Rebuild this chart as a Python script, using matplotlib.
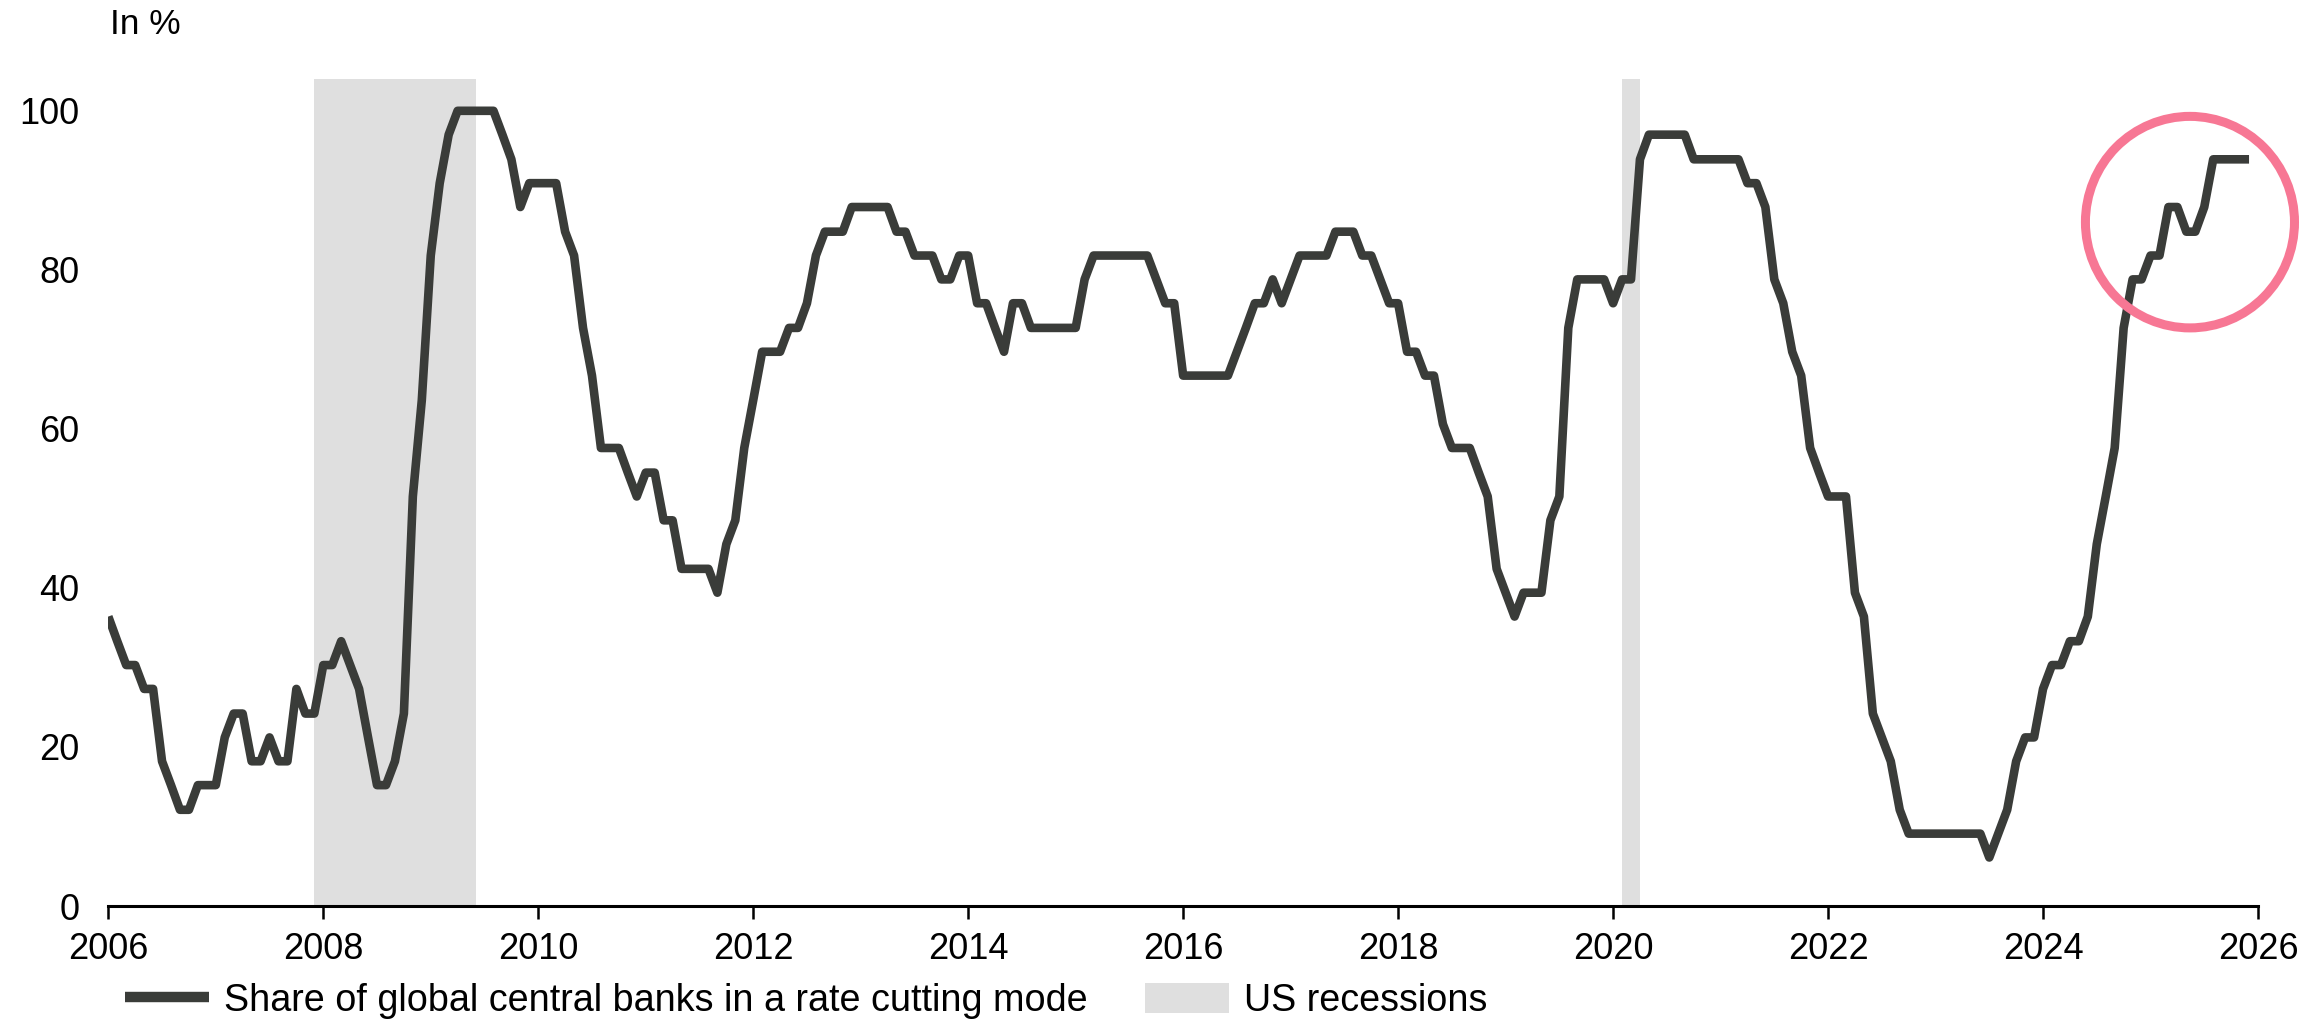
import matplotlib
matplotlib.use('Agg')
import matplotlib.pyplot as plt
import numpy as np
from matplotlib.lines import Line2D
from matplotlib.patches import Patch, Ellipse

plt.rcParams['font.family'] = ['Liberation Sans', 'DejaVu Sans']

# ---------------- data (monthly, Jan 2006 onwards) ----------------
start_year = 2006
share = [
    # 2006
    36.4, 33.3, 30.3, 30.3, 27.3, 27.3, 18.2, 15.2, 12.1, 12.1, 15.2, 15.2,
    # 2007
    15.2, 21.2, 24.2, 24.2, 18.2, 18.2, 21.2, 18.2, 18.2, 27.3, 24.2, 24.2,
    # 2008
    30.3, 30.3, 33.3, 30.3, 27.3, 21.2, 15.2, 15.2, 18.2, 24.2, 51.5, 63.6,
    # 2009
    81.8, 90.9, 97.0, 100.0, 100.0, 100.0, 100.0, 100.0, 97.0, 93.9, 87.9, 90.9,
    # 2010
    90.9, 90.9, 90.9, 84.8, 81.8, 72.7, 66.7, 57.6, 57.6, 57.6, 54.5, 51.5,
    # 2011
    54.5, 54.5, 48.5, 48.5, 42.4, 42.4, 42.4, 42.4, 39.4, 45.5, 48.5, 57.6,
    # 2012
    63.6, 69.7, 69.7, 69.7, 72.7, 72.7, 75.8, 81.8, 84.8, 84.8, 84.8, 87.9,
    # 2013
    87.9, 87.9, 87.9, 87.9, 84.8, 84.8, 81.8, 81.8, 81.8, 78.8, 78.8, 81.8,
    # 2014
    81.8, 75.8, 75.8, 72.7, 69.7, 75.8, 75.8, 72.7, 72.7, 72.7, 72.7, 72.7,
    # 2015
    72.7, 78.8, 81.8, 81.8, 81.8, 81.8, 81.8, 81.8, 81.8, 78.8, 75.8, 75.8,
    # 2016
    66.7, 66.7, 66.7, 66.7, 66.7, 66.7, 69.7, 72.7, 75.8, 75.8, 78.8, 75.8,
    # 2017
    78.8, 81.8, 81.8, 81.8, 81.8, 84.8, 84.8, 84.8, 81.8, 81.8, 78.8, 75.8,
    # 2018
    75.8, 69.7, 69.7, 66.7, 66.7, 60.6, 57.6, 57.6, 57.6, 54.5, 51.5, 42.4,
    # 2019
    39.4, 36.4, 39.4, 39.4, 39.4, 48.5, 51.5, 72.7, 78.8, 78.8, 78.8, 78.8,
    # 2020
    75.8, 78.8, 78.8, 93.9, 97.0, 97.0, 97.0, 97.0, 97.0, 93.9, 93.9, 93.9,
    # 2021
    93.9, 93.9, 93.9, 90.9, 90.9, 87.9, 78.8, 75.8, 69.7, 66.7, 57.6, 54.5,
    # 2022
    51.5, 51.5, 51.5, 39.4, 36.4, 24.2, 21.2, 18.2, 12.1, 9.1, 9.1, 9.1,
    # 2023
    9.1, 9.1, 9.1, 9.1, 9.1, 9.1, 6.1, 9.1, 12.1, 18.2, 21.2, 21.2,
    # 2024
    27.3, 30.3, 30.3, 33.3, 33.3, 36.4, 45.5, 51.5, 57.6, 72.7, 78.8, 78.8,
    # 2025
    81.8, 81.8, 87.9, 87.9, 84.8, 84.8, 87.9, 93.9, 93.9, 93.9, 93.9, 93.9,
]

recession_starts = [2007 + 11 / 12, 2020 + 1 / 12]
recession_ends = [2009 + 5 / 12, 2020 + 3 / 12]

x_ticks = [2006, 2008, 2010, 2012, 2014, 2016, 2018, 2020, 2022, 2024, 2026]
y_ticks = [0, 20, 40, 60, 80, 100]

line_label = 'Share of global central banks in a rate cutting mode'
rec_label = 'US recessions'

# ---------------- styling ----------------
LINE_C = '#3a3c39'
REC_C = '#dfdfdf'
PINK = '#f77794'
FS_TICK = 26
FS_LEG = 27.2
FS_UNIT = 25.5

W, H = 2303, 1021
fig = plt.figure(figsize=(W / 100, H / 100), dpi=100)
ax = fig.add_axes([108.3 / W, 1 - 906 / H, (2258 - 108.3) / W, (906 - 79) / H])

for s, e in zip(recession_starts, recession_ends):
    ax.axvspan(s, e, color=REC_C, lw=0, zorder=0)

xs = start_year + np.arange(len(share)) / 12
ax.plot(xs, share, color=LINE_C, lw=6.2, solid_joinstyle='round',
        solid_capstyle='butt', zorder=3)

ax.set_xlim(2006, 2026)
ax.set_ylim(0, 104)
ax.set_xticks(x_ticks)
ax.set_xticklabels([str(t) for t in x_ticks])
ax.set_yticks(y_ticks)
ax.set_yticklabels([str(t) for t in y_ticks])

for sp in ['top', 'right', 'left']:
    ax.spines[sp].set_visible(False)
ax.spines['bottom'].set_linewidth(2.2)
ax.spines['bottom'].set_color('black')
ax.tick_params(axis='x', length=9.5, width=1.8, pad=9, labelsize=FS_TICK,
               direction='out', colors='black')
ax.tick_params(axis='y', length=0, pad=21, labelsize=FS_TICK, colors='black')

# highlight circle
ell = Ellipse((2025.367, 86.0), 1.945, 26.6, fill=False, edgecolor=PINK,
              lw=6.5, clip_on=False, zorder=5)
ax.add_patch(ell)

# unit label
fig.text(110 / W, 1 - 24 / H, 'In %', fontsize=FS_UNIT, va='center', ha='left')

# legend
handles = [Line2D([], [], color=LINE_C, lw=7.5, solid_capstyle='butt'),
           Patch(facecolor=REC_C, edgecolor='none')]
fig.legend(handles=handles, labels=[line_label, rec_label],
           loc='center left', bbox_to_anchor=(125 / W, 1 - 1001 / H),
           ncol=2, frameon=False, fontsize=FS_LEG, handlelength=2.22,
           handleheight=0.82, handletextpad=0.41, columnspacing=1.51,
           borderpad=0, borderaxespad=0)

fig.savefig('out.png', dpi=100)
